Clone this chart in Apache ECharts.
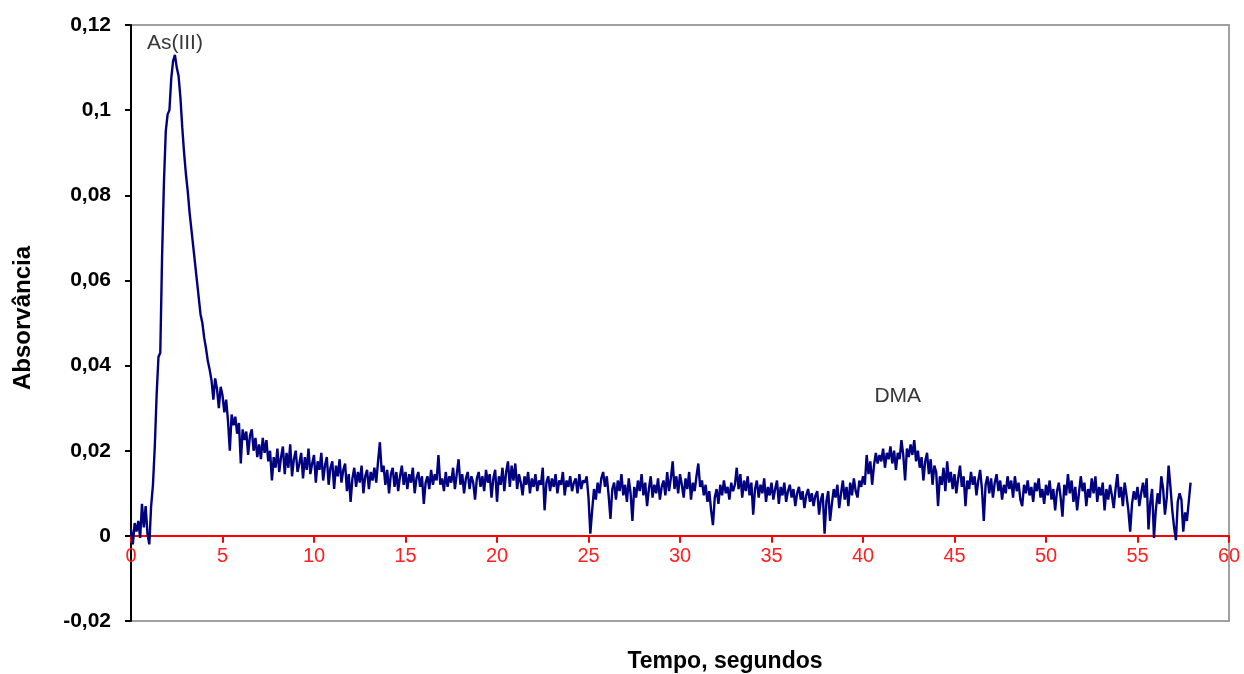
<!DOCTYPE html>
<html>
<head>
<meta charset="utf-8">
<script src="https://cdn.jsdelivr.net/npm/echarts@6/dist/echarts.min.js"></script>
<style>
  html, body { margin: 0; padding: 0; background: #ffffff; }
  #chart { width: 1244px; height: 674px; }
</style>
</head>
<body>
<div id="chart"></div>
<script>
// Sampling step of the detector signal, seconds
const timeStep = 0.1;

// Absorbance readings, one row per second (10 samples each), from t = 0 s to 57.9 s
const absorbance = [
  0.0015, -0.0020, 0.0030, 0.0010, 0.0035, -0.0005, 0.0075, 0.0020, 0.0070, 0.0005,
  -0.0020, 0.0070, 0.0120, 0.0210, 0.0330, 0.0420, 0.0430, 0.0660, 0.0830, 0.0950,
  0.0990, 0.1000, 0.1075, 0.1115, 0.1130, 0.1100, 0.1080, 0.1030, 0.0960, 0.0900,
  0.0850, 0.0810, 0.0760, 0.0720, 0.0680, 0.0640, 0.0600, 0.0560, 0.0520, 0.0500,
  0.0465, 0.0440, 0.0410, 0.0390, 0.0365, 0.0320, 0.0370, 0.0345, 0.0300, 0.0350,
  0.0330, 0.0290, 0.0320, 0.0270, 0.0200, 0.0285, 0.0260, 0.0280, 0.0240, 0.0265,
  0.0170, 0.0250, 0.0225, 0.0245, 0.0190, 0.0235, 0.0250, 0.0200, 0.0230, 0.0185,
  0.0215, 0.0180, 0.0230, 0.0195, 0.0225, 0.0175, 0.0200, 0.0130, 0.0185, 0.0160,
  0.0205, 0.0150, 0.0185, 0.0210, 0.0145, 0.0195, 0.0160, 0.0215, 0.0140, 0.0180,
  0.0200, 0.0150, 0.0170, 0.0195, 0.0135, 0.0185, 0.0155, 0.0205, 0.0145, 0.0170,
  0.0190, 0.0125, 0.0175, 0.0155, 0.0195, 0.0130, 0.0165, 0.0185, 0.0120, 0.0160,
  0.0175, 0.0110, 0.0165, 0.0140, 0.0180, 0.0125, 0.0155, 0.0170, 0.0105, 0.0145,
  0.0080, 0.0135, 0.0160, 0.0115, 0.0150, 0.0125, 0.0165, 0.0100, 0.0140, 0.0155,
  0.0110, 0.0150, 0.0130, 0.0160, 0.0125, 0.0175, 0.0220, 0.0150, 0.0165, 0.0120,
  0.0155, 0.0100, 0.0145, 0.0160, 0.0115, 0.0150, 0.0105, 0.0140, 0.0165, 0.0120,
  0.0150, 0.0110, 0.0145, 0.0125, 0.0160, 0.0100, 0.0135, 0.0150, 0.0115, 0.0140,
  0.0075, 0.0125, 0.0140, 0.0110, 0.0155, 0.0120, 0.0145, 0.0130, 0.0190, 0.0120,
  0.0135, 0.0105, 0.0150, 0.0115, 0.0140, 0.0125, 0.0160, 0.0110, 0.0145, 0.0180,
  0.0120, 0.0145, 0.0100, 0.0135, 0.0150, 0.0110, 0.0140, 0.0125, 0.0085, 0.0135,
  0.0150, 0.0115, 0.0140, 0.0105, 0.0155, 0.0125, 0.0145, 0.0090, 0.0135, 0.0155,
  0.0080, 0.0140, 0.0120, 0.0160, 0.0105, 0.0150, 0.0175, 0.0115, 0.0165, 0.0130,
  0.0170, 0.0110, 0.0145, 0.0125, 0.0095, 0.0140, 0.0120, 0.0150, 0.0100, 0.0135,
  0.0115, 0.0145, 0.0105, 0.0130, 0.0120, 0.0160, 0.0060, 0.0125, 0.0140, 0.0105,
  0.0135, 0.0115, 0.0145, 0.0100, 0.0130, 0.0120, 0.0150, 0.0095, 0.0130, 0.0115,
  0.0140, 0.0105, 0.0125, 0.0135, 0.0100, 0.0145, 0.0110, 0.0130, 0.0125, 0.0140,
  0.0090, 0.0005, 0.0060, 0.0110, 0.0085, 0.0125, 0.0100, 0.0135, 0.0150, 0.0115,
  0.0140, 0.0095, 0.0040, 0.0110, 0.0125, 0.0085, 0.0130, 0.0105, 0.0145, 0.0095,
  0.0120, 0.0080, 0.0135, 0.0100, 0.0035, 0.0115, 0.0090, 0.0130, 0.0105, 0.0145,
  0.0095, 0.0125, 0.0070, 0.0110, 0.0140, 0.0090, 0.0120, 0.0100, 0.0135, 0.0085,
  0.0115, 0.0130, 0.0095, 0.0150, 0.0105, 0.0135, 0.0175, 0.0110, 0.0140, 0.0100,
  0.0145, 0.0120, 0.0090, 0.0135, 0.0110, 0.0150, 0.0085, 0.0125, 0.0105, 0.0140,
  0.0170, 0.0115, 0.0130, 0.0095, 0.0120, 0.0080, 0.0105, 0.0060, 0.0025, 0.0090,
  0.0110, 0.0075, 0.0120, 0.0095, 0.0130, 0.0100, 0.0115, 0.0085, 0.0125, 0.0105,
  0.0120, 0.0160, 0.0110, 0.0145, 0.0090, 0.0130, 0.0105, 0.0140, 0.0095, 0.0125,
  0.0050, 0.0110, 0.0130, 0.0090, 0.0120, 0.0100, 0.0135, 0.0080, 0.0115, 0.0095,
  0.0125, 0.0085, 0.0110, 0.0130, 0.0075, 0.0115, 0.0095, 0.0125, 0.0080, 0.0105,
  0.0120, 0.0090, 0.0110, 0.0070, 0.0100, 0.0115, 0.0085, 0.0105, 0.0065, 0.0095,
  0.0110, 0.0080, 0.0100, 0.0070, 0.0095, 0.0105, 0.0050, 0.0085, 0.0100, 0.0005,
  0.0080, 0.0105, 0.0035, 0.0075, 0.0110, 0.0090, 0.0120, 0.0065, 0.0100, 0.0130,
  0.0085, 0.0115, 0.0070, 0.0125, 0.0095, 0.0135, 0.0105, 0.0090, 0.0130, 0.0115,
  0.0140, 0.0120, 0.0190, 0.0145, 0.0175, 0.0120, 0.0165, 0.0195, 0.0170, 0.0190,
  0.0175, 0.0205, 0.0160, 0.0195, 0.0180, 0.0210, 0.0170, 0.0200, 0.0155, 0.0195,
  0.0180, 0.0225, 0.0190, 0.0130, 0.0205, 0.0185, 0.0215, 0.0190, 0.0225, 0.0175,
  0.0200, 0.0160, 0.0185, 0.0130, 0.0175, 0.0195, 0.0145, 0.0180, 0.0120, 0.0165,
  0.0150, 0.0070, 0.0140, 0.0120, 0.0160, 0.0105, 0.0175, 0.0125, 0.0150, 0.0110,
  0.0145, 0.0100, 0.0135, 0.0165, 0.0115, 0.0140, 0.0070, 0.0130, 0.0110, 0.0150,
  0.0120, 0.0140, 0.0095, 0.0130, 0.0155, 0.0110, 0.0035, 0.0120, 0.0140, 0.0100,
  0.0135, 0.0090, 0.0125, 0.0145, 0.0105, 0.0130, 0.0085, 0.0120, 0.0100, 0.0140,
  0.0110, 0.0130, 0.0090, 0.0140, 0.0105, 0.0125, 0.0085, 0.0070, 0.0120, 0.0100,
  0.0130, 0.0095, 0.0115, 0.0080, 0.0125, 0.0105, 0.0135, 0.0090, 0.0110, 0.0075,
  0.0120, 0.0095, 0.0130, 0.0085, 0.0110, 0.0060, 0.0105, 0.0125, 0.0090, 0.0045,
  0.0120, 0.0095, 0.0145, 0.0100, 0.0130, 0.0080, 0.0115, 0.0060, 0.0100, 0.0140,
  0.0105, 0.0125, 0.0070, 0.0110, 0.0090, 0.0135, 0.0100, 0.0140, 0.0080, 0.0115,
  0.0095, 0.0125, 0.0060, 0.0110, 0.0085, 0.0120, 0.0095, 0.0065, 0.0110, 0.0145,
  0.0090, 0.0115, 0.0070, 0.0125, 0.0095, 0.0060, 0.0010, 0.0075, 0.0105, 0.0085,
  0.0115, 0.0070, 0.0100, 0.0125, 0.0090, 0.0135, 0.0015, 0.0080, 0.0110, -0.0005,
  0.0060, 0.0100, 0.0075, 0.0140, 0.0110, 0.0050, 0.0090, 0.0165, 0.0115, 0.0060,
  0.0020, -0.0010, 0.0080, 0.0100, 0.0085, 0.0010, 0.0055, 0.0035, 0.0080, 0.0125
];

// Peak annotations: [label, time (s), absorbance where the label sits]
const peakLabels = [
  ['As(III)', 2.4, 0.1157],
  ['DMA', 41.9, 0.0327]
];

// Axis ranges and tick spacing
const xMin = 0, xMax = 60, xStep = 5;
const yMin = -0.02, yMax = 0.12, yStep = 0.02;

const xTitle = 'Tempo, segundos';
const yTitle = 'Absorvância';

// Plot box
const gridTop = 25, gridBottom = 53, chartHeight = 674;
const plotHeight = chartHeight - gridTop - gridBottom;
// The time axis (line, ticks and labels) sits on absorbance = 0
const zeroOffset = -plotHeight * (0 - yMin) / (yMax - yMin);

// Pair each reading with its time stamp
const points = absorbance.map((v, i) => [Number((i * timeStep).toFixed(1)), v]);

// Decimal comma for the absorbance tick labels
function commaLabel(v) {
  const r = Math.round(v * 1000) / 1000;
  return String(r).replace('.', ',');
}

const chart = echarts.init(document.getElementById('chart'), null, { renderer: 'canvas' });

chart.setOption({
  backgroundColor: '#ffffff',
  animation: false,
  grid: {
    left: 131, right: 15, top: gridTop, bottom: gridBottom,
    show: true,
    borderColor: '#a0a0a0',
    borderWidth: 2,
    backgroundColor: 'transparent'
  },
  xAxis: {
    type: 'value',
    min: xMin, max: xMax, interval: xStep,
    offset: zeroOffset,
    axisLine: { onZero: false, lineStyle: { color: '#ff0000', width: 2 } },
    axisTick: { show: true, inside: false, length: 7, lineStyle: { color: '#ff0000', width: 2 } },
    axisLabel: {
      color: '#ff2020', fontFamily: 'Liberation Sans, Arial, sans-serif',
      fontSize: 20, margin: 11
    },
    splitLine: { show: false }
  },
  yAxis: {
    type: 'value',
    min: yMin, max: yMax, interval: yStep,
    axisLine: { show: true, onZero: false, lineStyle: { color: '#000000', width: 2 } },
    axisTick: { show: true, length: 6, lineStyle: { color: '#000000', width: 2 } },
    axisLabel: {
      color: '#000000', fontWeight: 'bold', fontFamily: 'Liberation Sans, Arial, sans-serif',
      fontSize: 21, margin: 20, formatter: commaLabel
    },
    splitLine: { show: false }
  },
  graphic: [
    {
      type: 'text', x: 725, y: 662,
      style: {
        text: xTitle, fill: '#000000',
        font: 'bold 23px "Liberation Sans", Arial, sans-serif',
        textAlign: 'center', textVerticalAlign: 'middle'
      }
    },
    {
      type: 'text', x: 23, y: 318, rotation: Math.PI / 2,
      style: {
        text: yTitle, fill: '#000000',
        font: 'bold 24px "Liberation Sans", Arial, sans-serif',
        textAlign: 'center', textVerticalAlign: 'middle'
      }
    }
  ],
  series: [
    {
      type: 'line',
      data: points,
      showSymbol: false,
      symbol: 'none',
      lineStyle: { color: '#000080', width: 2.4 },
      markPoint: {
        symbol: 'circle',
        symbolSize: 0,
        silent: true,
        data: peakLabels.map(p => ({
          coord: [p[1], p[2]],
          label: {
            show: true, formatter: p[0], position: 'inside',
            color: '#383838', fontSize: 21,
            fontFamily: 'Liberation Sans, Arial, sans-serif'
          }
        }))
      }
    }
  ]
});
</script>
</body>
</html>
